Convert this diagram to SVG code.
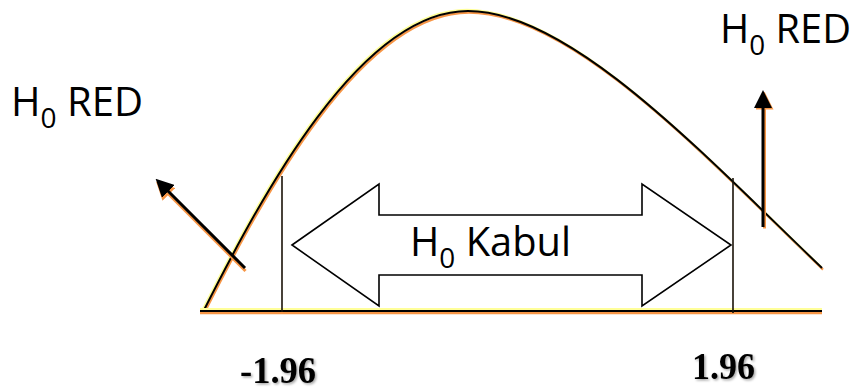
<svg xmlns="http://www.w3.org/2000/svg" xmlns:xlink="http://www.w3.org/1999/xlink" width="854" height="390" viewBox="0 0 854 390">
<style>
.lbl{font-family:"Open Sans","Noto Sans","Liberation Sans",sans-serif;font-size:40px;fill:#000}
.num{font-family:"Liberation Serif","Times New Roman",serif;font-weight:bold;font-size:37px;fill:#000;filter:url(#shadow)}
.ink{fill:none;stroke:#000;stroke-width:2}
.glowY{fill:none;stroke:#FFFF99;stroke-width:2}
.glowO{fill:none;stroke:#F79646;stroke-width:2.2}
.tick{fill:none;stroke:#1a1208;stroke-width:1.6}
.box{fill:#fff;stroke:#000;stroke-width:1.6}
.arr{fill:none;stroke:#000;stroke-width:3}
.arrO{fill:none;stroke:#F79646;stroke-width:3}
</style>
<defs>
<filter id="shadow" x="-10%" y="-10%" width="130%" height="130%">
<feDropShadow dx="1.5" dy="1.5" stdDeviation="1" flood-color="#000" flood-opacity="0.35"/>
</filter>
<marker id="headK" markerWidth="6" markerHeight="6" refX="3" refY="3" orient="auto" markerUnits="strokeWidth" viewBox="0 0 6 6">
<path d="M0,0 L6,3 L0,6 Z" fill="#000"/>
</marker>
<marker id="headO" markerWidth="6" markerHeight="6" refX="3" refY="3" orient="auto" markerUnits="strokeWidth" viewBox="0 0 6 6">
<path d="M0,0 L6,3 L0,6 Z" fill="#F79646"/>
</marker>
<path id="curve" d="M203,312 C262,195 360,11 468,11 C570,11 702,153 822,268"/>
<line id="base" x1="200" y1="311" x2="822" y2="311"/>
</defs>

<g id="bell-curve">
<use xlink:href="#curve" class="glowO" transform="translate(1,1.6)"/>
<use xlink:href="#curve" class="glowY" transform="translate(-1,-1.2)"/>
<use xlink:href="#curve" class="ink"/>
</g>

<g id="axis">
<use xlink:href="#base" class="glowO" transform="translate(0,2.2)"/>
<use xlink:href="#base" class="glowY" transform="translate(0,-2)"/>
<use xlink:href="#base" class="ink"/>
</g>

<g id="critical-lines">
<line class="tick" x1="282" y1="176" x2="282" y2="312"/>
<line class="tick" x1="733" y1="178" x2="733" y2="313"/>
</g>

<g id="accept-region">
<polygon class="box" points="292,245 379,184 379,215 642,215 642,184 731,245 642,306 642,275 379,275 379,306"/>
<text class="lbl" x="410" y="256" textLength="161" lengthAdjust="spacingAndGlyphs">H<tspan font-size="28" dy="12">0</tspan><tspan dy="-12"> Kabul</tspan></text>
</g>

<g id="reject-left">
<text class="lbl" x="11" y="116" textLength="132" lengthAdjust="spacingAndGlyphs">H<tspan font-size="28" dy="12">0</tspan><tspan dy="-12"> RED</tspan></text>
</g>

<g id="reject-right">
<text class="lbl" x="720" y="43" textLength="131" lengthAdjust="spacingAndGlyphs">H<tspan font-size="28" dy="12">0</tspan><tspan dy="-12"> RED</tspan></text>
</g>

<g id="crit-neg">
<text class="num" x="240" y="383" textLength="76" lengthAdjust="spacingAndGlyphs">-1.96</text>
</g>

<g id="crit-pos">
<text class="num" x="692" y="379" textLength="63" lengthAdjust="spacingAndGlyphs">1.96</text>
</g>

<g id="connectors">
<line class="arrO" x1="246" y1="269.5" x2="163" y2="186.5" marker-end="url(#headO)" transform="translate(-0.5,1.5)"/>
<line class="arr" x1="245" y1="268" x2="162" y2="185" marker-end="url(#headK)"/>
<line class="arrO" x1="764" y1="227" x2="764" y2="99" marker-end="url(#headO)" transform="translate(0.5,1.5)"/>
<line class="arr" x1="763" y1="227" x2="763" y2="99" marker-end="url(#headK)"/>
</g>
</svg>
